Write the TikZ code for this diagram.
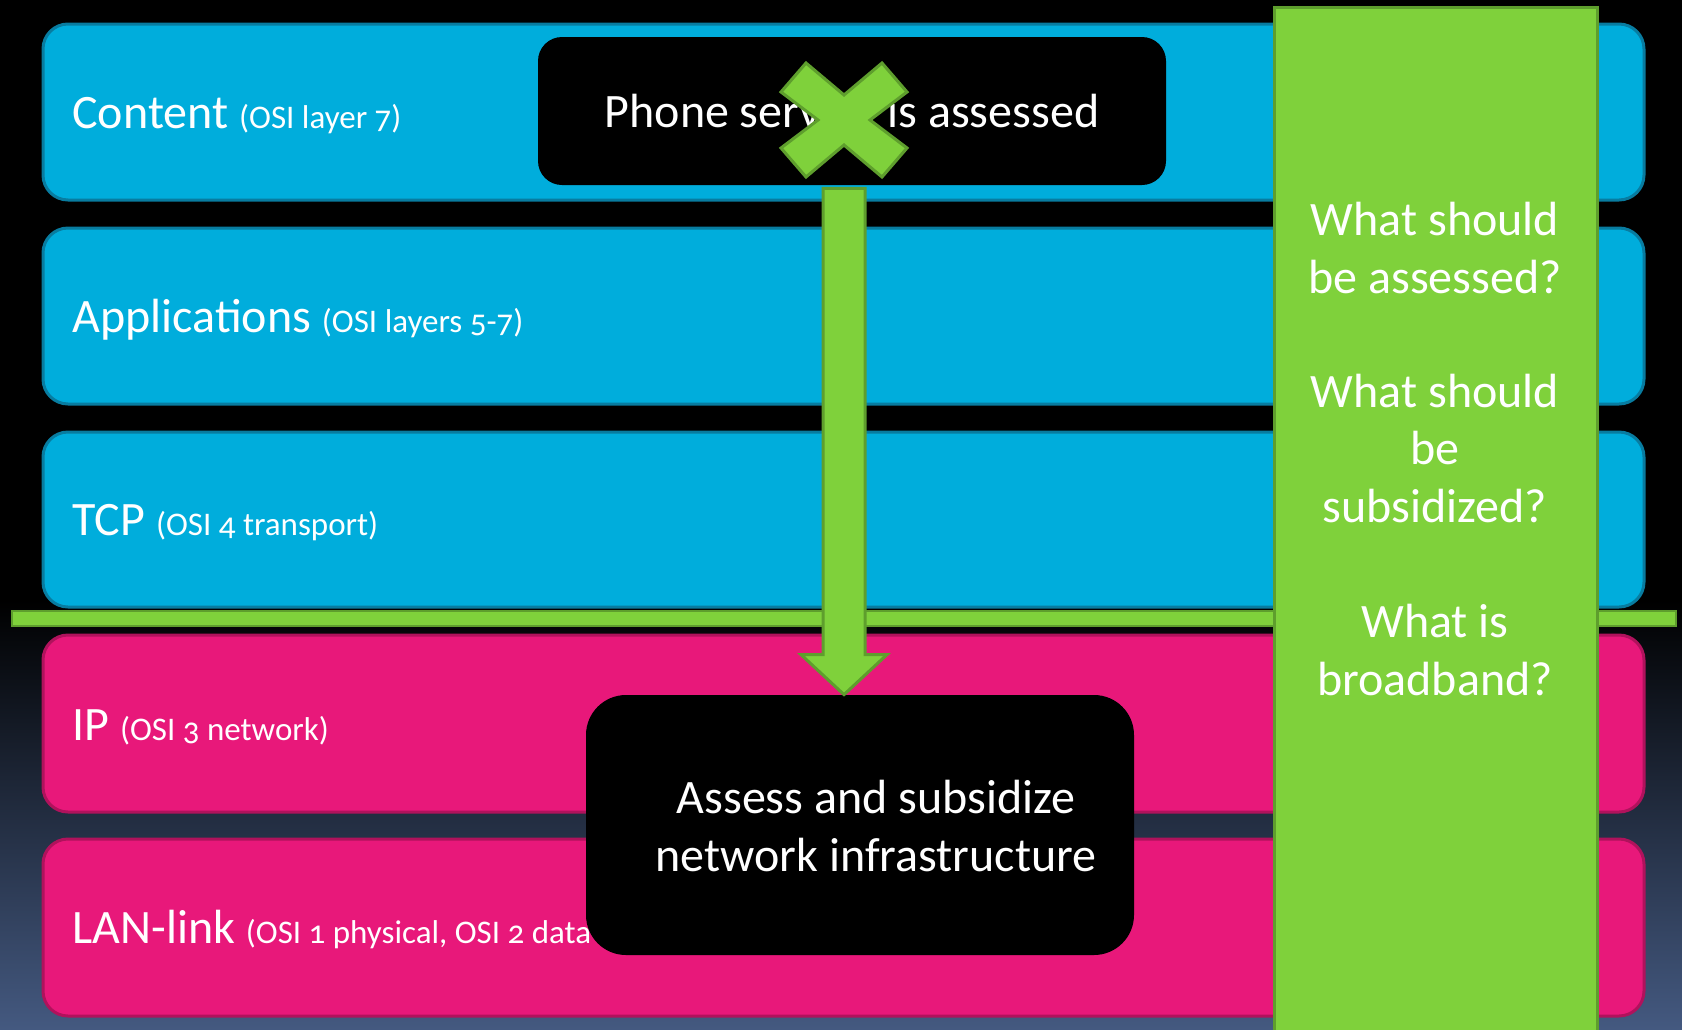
\documentclass[tikz,border=0pt]{standalone}
\usepackage{fontspec}
\setmainfont{Carlito}
\newfontfamily\osinum{Carlito}[Numbers=OldStyle]
\usetikzlibrary{positioning, calc}

\definecolor{layerblue}{RGB}{0,173,220}
\definecolor{layerblueedge}{RGB}{8,124,160}
\definecolor{layerpink}{RGB}{232,24,122}
\definecolor{layerpinkedge}{RGB}{176,18,92}
\definecolor{qgreen}{RGB}{127,209,59}
\definecolor{qgreenedge}{RGB}{94,158,45}
\definecolor{bgblue}{RGB}{68,89,128}

\newcommand{\osi}[1]{{\fontsize{16.5}{19}\selectfont\osinum #1}}

\begin{document}
\begin{tikzpicture}[x=0.5pt, y=-0.5pt,
    every node/.style={font=\fontsize{24}{28.75}\selectfont, text=white, inner sep=0pt},
    bluelayer/.style={fill=layerblue, draw=layerblueedge, line width=1.5pt, rounded corners=12.5pt},
    pinklayer/.style={fill=layerpink, draw=layerpinkedge, line width=1.5pt, rounded corners=12.5pt},
    blackbox/.style={fill=black, rounded corners=12pt},
    greenpart/.style={fill=qgreen, draw=qgreenedge, line width=1.5pt},
    question/.style={anchor=base, align=center},
    layerlabel/.style={anchor=base west}]
        \useasboundingbox (0,0) rectangle (1682,1029);

        % Background
        \fill[black] (0,0) rectangle (1682,1029);
        \shade[top color=black, bottom color=bgblue] (0,600) rectangle (1682,1029);

        % Layers
        \draw[bluelayer] (43,24) rectangle (1644,200);
        \draw[bluelayer] (43,228) rectangle (1644,404);
        \draw[bluelayer] (43,432) rectangle (1644,607);
        \draw[pinklayer] (43,635) rectangle (1644,812);
        \draw[pinklayer] (43,839) rectangle (1644,1016);

        \node[layerlabel] (content) at (72,128) {Content \osi{(OSI layer 7)}};
        \node[layerlabel] (apps) at (72,332) {Applications \osi{(OSI layers 5-7)}};
        \node[layerlabel] (tcp) at (72,535) {TCP \osi{(OSI 4 transport)}};
        \node[layerlabel] (ip) at (72,740) {IP \osi{(OSI 3 network)}};
        \node[layerlabel] (lan) at (72,943) {LAN-link \osi{(OSI 1 physical, OSI 2 data link)}};

        % Boundary between upper and lower layers
        \draw[greenpart, line width=0.6pt] (12,611) rectangle (1676,626);

        % Boxes
        \node[blackbox, minimum width=314pt, minimum height=74pt] (phone) at (852,111) {Phone service is assessed};
        \node[blackbox, rounded corners=20pt, minimum width=274pt, minimum height=130pt] (infra) at (860,825) {};
        \node[align=center] (infratext) at (876,826) {Assess and subsidize\\network infrastructure};

        % Questions column
        \draw[greenpart] (1274,7) rectangle (1597,1040);
        \node[question] (qassess) at (1435,293) {What should\\be assessed?};
        \node[question] (qsubsidy) at (1435,522) {What should\\be\\subsidized?};
        \node[question] (qbroad) at (1435,695) {What is\\broadband?};

        % Arrow down from phone box to infrastructure box
        \coordinate (cross) at (844,120);
        \draw[greenpart] ($(cross |- phone.south)+(-21,3)$) -- ($(cross |- infra.north)+(-21,-40)$)
            -- ++(-22,0) -- (cross |- infra.north) -- ($(cross |- infra.north)+(43,-40)$)
            -- ++(-22,0) -- ($(cross |- phone.south)+(21,3)$) -- cycle;

        % Crossed out
        \draw[greenpart, shift={(cross)}] (-38,-57) -- (0,-25) -- (38,-57) -- (63,-28) -- (26,0) -- (63,28)
            -- (38,57) -- (0,25) -- (-38,57) -- (-63,28) -- (-26,0) -- (-63,-28) -- cycle;
\end{tikzpicture}
\end{document}
